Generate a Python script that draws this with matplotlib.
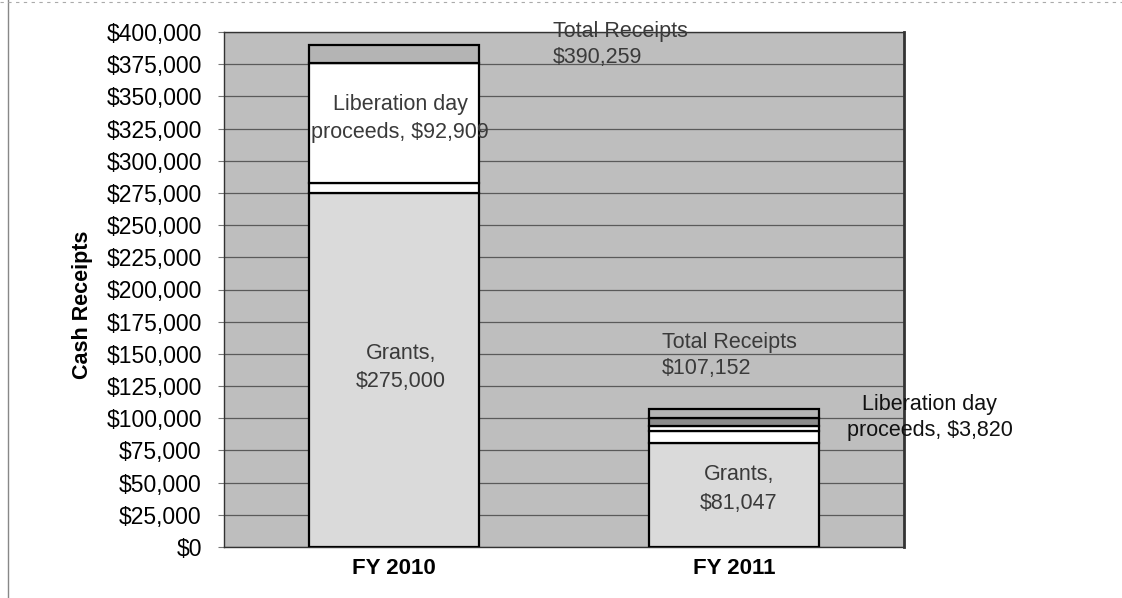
import matplotlib
matplotlib.use("Agg")
import matplotlib.pyplot as plt
from matplotlib.ticker import FuncFormatter, MultipleLocator
from matplotlib.lines import Line2D

plt.rcParams['font.family'] = ['Liberation Sans', 'DejaVu Sans']

categories = ['FY 2010', 'FY 2011']
grants = [275000, 81047]
other_a = [8000, 9000]
liberation = [92909, 3820]
other_b = [0, 6000]
other_c = [14350, 7285]
totals = [390259, 107152]

fig = plt.figure(figsize=(11.22, 5.98), dpi=100)
ax = fig.add_axes([224/1122, 1-547/598, 680/1122, 515/598])
ax.set_facecolor('#bebebe')

x = [0, 1]
series = [grants, other_a, liberation, other_b, other_c]
colors = ['#dadada', '#ffffff', '#ffffff', '#8c8c8c', '#b4b4b4']
bottom = [0, 0]
for vals, c in zip(series, colors):
    ax.bar(x, vals, width=0.5, bottom=bottom, color=c, edgecolor='black',
           linewidth=1.6, zorder=3)
    bottom = [b + v for b, v in zip(bottom, vals)]

ax.set_xlim(-0.5, 1.5)
ax.set_ylim(0, 400000)
ax.yaxis.set_major_locator(MultipleLocator(25000))
ax.yaxis.set_major_formatter(FuncFormatter(lambda v, p: f"${v:,.0f}"))
ax.set_xticks(x)
ax.set_xticklabels(categories, fontsize=16, fontweight='bold')
ax.tick_params(axis='y', labelsize=16.5, length=4, pad=12, color='#777777')
ax.tick_params(axis='x', length=0, pad=8)
ax.grid(axis='y', color='#5a5a5a', linewidth=0.9, zorder=1)
for s in ax.spines.values():
    s.set_color('#333333')
    s.set_linewidth(1.0)
ax.spines['right'].set_linewidth(2.0)

ax.set_ylabel('Cash Receipts', fontsize=15.5, fontweight='bold')
ax.yaxis.set_label_coords(-0.192, 0.47)

tc = '#3a3a3a'
fs = 15.5
ax.text(0.468, totals[0], f"Total Receipts\n${totals[0]:,}", ha='left', va='center',
        fontsize=fs, color=tc, linespacing=1.3, zorder=5)
ax.text(0.788, 148700, f"Total Receipts\n${totals[1]:,}", ha='left', va='center',
        fontsize=fs, color=tc, linespacing=1.3, zorder=5)
ax.text(0.018, 332800, f"Liberation day\nproceeds, ${liberation[0]:,}", ha='center',
        va='center', fontsize=fs, color=tc, linespacing=1.45, zorder=5)
ax.text(1.576, 100580, f"Liberation day\nproceeds, ${liberation[1]:,}", ha='center',
        va='center', fontsize=fs, color='#111111', linespacing=1.3, zorder=5,
        clip_on=False)
ax.text(0.02, 139400, f"Grants,\n${grants[0]:,}", ha='center', va='center',
        fontsize=fs, color=tc, linespacing=1.45, zorder=5)
ax.text(1.015, 45000, f"Grants,\n${grants[1]:,}", ha='center', va='center',
        fontsize=fs, color=tc, linespacing=1.45, zorder=5)

fig.add_artist(Line2D([8/1122, 8/1122], [0, 1], transform=fig.transFigure,
                      color='#888888', linewidth=1.0))
fig.add_artist(Line2D([0, 1], [1-2/598, 1-2/598], transform=fig.transFigure,
                      color='#aaaaaa', linewidth=0.8, linestyle=(0, (3, 4))))

fig.savefig('out.png', dpi=100)
